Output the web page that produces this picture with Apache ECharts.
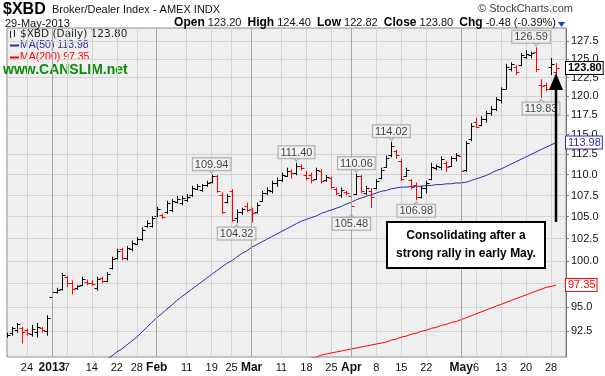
<!DOCTYPE html>
<html>
<head>
<meta charset="utf-8">
<title>$XBD Broker/Dealer Index</title>
<script src="https://cdn.jsdelivr.net/npm/echarts@6.0.0/dist/echarts.min.js"></script>
<style>
  html, body { margin: 0; padding: 0; background: #fff; }
  #chart { width: 605px; height: 376px; }
</style>
</head>
<body>
<div id="chart"></div>
<script>
// trading days shown on the chart, 18-Dec-2012 .. 29-May-2013
const dates = [
  '2012-12-18','2012-12-19','2012-12-20','2012-12-21','2012-12-24','2012-12-26','2012-12-27','2012-12-28','2012-12-31',
  '2013-01-02','2013-01-03','2013-01-04','2013-01-07','2013-01-08','2013-01-09','2013-01-10','2013-01-11',
  '2013-01-14','2013-01-15','2013-01-16','2013-01-17','2013-01-18','2013-01-22','2013-01-23','2013-01-24',
  '2013-01-25','2013-01-28','2013-01-29','2013-01-30','2013-01-31',
  '2013-02-01','2013-02-04','2013-02-05','2013-02-06','2013-02-07','2013-02-08','2013-02-11','2013-02-12',
  '2013-02-13','2013-02-14','2013-02-15','2013-02-19','2013-02-20','2013-02-21','2013-02-22','2013-02-25',
  '2013-02-26','2013-02-27','2013-02-28',
  '2013-03-01','2013-03-04','2013-03-05','2013-03-06','2013-03-07','2013-03-08','2013-03-11','2013-03-12',
  '2013-03-13','2013-03-14','2013-03-15','2013-03-18','2013-03-19','2013-03-20','2013-03-21','2013-03-22',
  '2013-03-25','2013-03-26','2013-03-27','2013-03-28',
  '2013-04-01','2013-04-02','2013-04-03','2013-04-04','2013-04-05','2013-04-08','2013-04-09','2013-04-10',
  '2013-04-11','2013-04-12','2013-04-15','2013-04-16','2013-04-17','2013-04-18','2013-04-19','2013-04-22',
  '2013-04-23','2013-04-24','2013-04-25','2013-04-26','2013-04-29','2013-04-30',
  '2013-05-01','2013-05-02','2013-05-03','2013-05-06','2013-05-07','2013-05-08','2013-05-09','2013-05-10',
  '2013-05-13','2013-05-14','2013-05-15','2013-05-16','2013-05-17','2013-05-20','2013-05-21','2013-05-22',
  '2013-05-23','2013-05-24','2013-05-28','2013-05-29'
];

const opens = [
  92.0, 92.3, 92.6, 92.8, 92.6, 92.2, 92.4, 92.8, 92.5,
  96.1, 96.6, 96.9, 98.2, 97.6, 97.0, 97.4, 97.7, 97.6, 97.0, 98.1, 97.8, 99.2,
  100.3, 101.3, 100.3, 101.3, 101.9, 102.4, 103.9, 103.9,
  105.1, 105.2, 105.5, 105.8, 106.7, 106.6, 107.0, 107.5, 108.3, 108.2, 108.7,
  109.1, 109.8, 107.6, 106.7, 108.0, 104.9, 105.5, 106.3,
  105.9, 105.5, 106.8, 107.8, 108.0, 109.0, 109.4, 109.9, 110.5, 110.2, 111.1,
  110.0, 110.0, 109.5, 110.4, 109.3, 109.6, 108.3, 107.5, 107.9,
  107.4, 107.7, 109.9, 107.8, 108.0, 108.4, 109.6, 111.0, 112.4, 112.9, 111.7,
  109.9, 109.3, 108.8, 107.3, 108.4, 109.5, 110.8, 111.0, 111.4, 111.1, 112.0,
  112.3, 110.6, 114.5, 116.6, 116.2, 117.0, 117.8, 118.3, 119.5, 121.0, 123.6,
  124.0, 124.2, 125.3, 125.6, 126.0, 121.5, 121.5, 124.0, 123.20
];
const highs = [
  92.3, 92.9, 93.3, 92.9, 92.7, 93.1, 93.3, 92.9, 94.1,
  96.9, 97.0, 98.6, 98.3, 97.8, 97.3, 98.2, 97.9, 97.8, 98.2, 98.2, 98.7, 100.4,
  101.3, 101.4, 101.6, 102.2, 102.6, 103.7, 104.5, 105.0,
  106.1, 105.3, 106.8, 107.0, 107.4, 107.4, 107.6, 108.6, 108.8, 108.8, 109.2,
  109.94, 109.9, 107.8, 107.6, 108.2, 105.8, 106.0, 106.6,
  106.0, 106.6, 108.0, 108.4, 109.2, 109.6, 110.2, 110.8, 110.6, 111.40, 111.2,
  110.4, 110.2, 110.8, 110.6, 109.9, 109.7, 108.4, 108.4, 108.0,
  107.5, 110.06, 109.9, 108.6, 108.3, 109.4, 110.8, 112.3, 114.02, 113.0, 111.9,
  110.8, 109.4, 109.0, 108.6, 109.2, 111.4, 111.2, 112.2, 111.6, 112.2, 112.6,
  112.6, 114.1, 116.4, 117.1, 117.3, 118.0, 118.6, 119.8, 121.1, 124.3, 124.5,
  124.1, 125.8, 126.2, 126.0, 126.59, 122.2, 121.7, 125.1, 124.40
];
const lows = [
  91.9, 92.1, 92.4, 91.3, 92.1, 92.0, 91.9, 92.4, 92.1,
  96.0, 96.5, 96.8, 97.2, 96.4, 96.9, 97.3, 97.4, 97.3, 96.8, 97.6, 97.7, 99.1,
  100.2, 100.1, 100.1, 101.1, 101.8, 102.3, 103.8, 103.8,
  105.0, 104.8, 105.4, 105.6, 106.6, 106.4, 106.8, 107.4, 108.2, 108.0, 108.6,
  109.0, 107.9, 105.4, 106.6, 104.5, 104.32, 105.3, 105.6,
  104.4, 105.4, 106.8, 107.6, 107.8, 108.6, 109.2, 109.8, 109.6, 110.0, 110.6,
  109.4, 109.0, 109.4, 109.0, 109.2, 108.3, 107.6, 107.3, 107.6,
  105.48, 107.6, 107.8, 107.6, 106.1, 108.3, 109.5, 110.9, 112.2, 112.0, 109.3,
  109.8, 108.3, 106.98, 107.2, 107.8, 109.4, 110.6, 110.6, 110.4, 111.0, 111.7,
  110.3, 110.4, 114.2, 115.9, 116.1, 116.6, 117.5, 118.1, 119.1, 121.0, 123.4,
  122.9, 124.1, 125.1, 125.2, 123.3, 119.83, 120.7, 122.9, 122.82
];
const closes = [
  92.1, 92.8, 93.2, 92.4, 92.3, 92.7, 92.9, 92.6, 93.9,
  96.6, 96.8, 98.4, 97.6, 96.9, 97.2, 98.0, 97.6, 97.5, 98.0, 97.8, 98.6, 100.2,
  101.1, 100.3, 101.4, 102.0, 102.5, 103.5, 104.3, 104.9,
  105.9, 105.0, 106.6, 106.8, 107.1, 107.2, 107.3, 108.4, 108.6, 108.7, 109.0,
  109.8, 108.0, 105.6, 107.4, 104.6, 105.5, 105.9, 105.8,
  105.4, 106.4, 107.8, 108.2, 109.0, 109.4, 110.0, 110.5, 110.2, 111.1, 110.8,
  109.6, 109.3, 110.6, 109.2, 109.7, 108.5, 107.8, 108.2, 107.8,
  106.2, 109.9, 108.0, 108.4, 107.3, 109.2, 110.6, 112.1, 113.5, 112.4, 109.5,
  110.6, 108.5, 107.3, 108.4, 109.0, 111.0, 111.1, 111.9, 110.9, 112.0, 112.4,
  110.5, 113.9, 116.1, 116.0, 117.0, 117.8, 118.3, 119.6, 120.9, 124.0, 124.3,
  123.2, 125.6, 125.7, 125.9, 123.6, 121.4, 121.0, 124.28, 123.80
];

// 50-day moving average (null where it is below the chart)
const ma50 = [
  null, null, null, null, null, null, null, null, null, null, null, null, null, null, null, null, null, null, null,
  89.3, 89.7, 90.0, 90.4, 90.7, 91.1, 91.5, 91.9, 92.4, 92.9, 93.4,
  93.9, 94.3, 94.8, 95.2, 95.7, 96.1, 96.5, 96.9, 97.3, 97.7,
  98.1, 98.5, 98.9, 99.3, 99.7, 100.0, 100.4, 100.8, 101.1, 101.5,
  101.8, 102.1, 102.4, 102.7, 103.0, 103.3, 103.6, 103.9, 104.2, 104.5,
  104.7, 104.9, 105.1, 105.4, 105.6, 105.8, 106.0, 106.2, 106.5, 106.7,
  107.0, 107.2, 107.4, 107.6, 107.8, 108.0, 108.1, 108.3, 108.4, 108.5,
  108.5, 108.6, 108.6, 108.6, 108.7, 108.7, 108.8, 108.8, 108.9, 108.9,
  109.0, 109.0, 109.1, 109.3, 109.5, 109.7, 109.9, 110.2, 110.5, 110.7,
  111.0, 111.3, 111.6, 111.9, 112.2, 112.5, 112.8, 113.1, 113.4, 113.7, 113.98
];
// 200-day moving average
const ma200 = [
  null, null, null, null, null, null, null, null, null, null, null, null, null, null, null, null, null, null, null, null,
  null, null, null, null, null, null, null, null, null, null, null, null, null, null, null, null, null, null, null, null,
  null, null, null, null, null, null, null, null, null, null, null, null, null, null, null, null, null,
  89.2, 89.4, 89.5, 89.7, 89.8, 89.9, 90.1, 90.2, 90.3, 90.4, 90.5, 90.6, 90.7,
  90.8, 90.9, 91.0, 91.1, 91.2, 91.3, 91.4, 91.6, 91.7, 91.9,
  92.0, 92.2, 92.3, 92.5, 92.6, 92.8, 92.9, 93.1, 93.2, 93.4,
  93.5, 93.7, 93.9, 94.1, 94.3, 94.5, 94.7, 94.9, 95.1, 95.3,
  95.5, 95.7, 95.9, 96.1, 96.3, 96.5, 96.7, 96.9, 97.1, 97.2, 97.35
];

const yTicks = [92.5, 95, 97.5, 100, 102.5, 105, 107.5, 110, 112.5, 115, 117.5, 120, 122.5, 125, 127.5];

const xTickDates = ['2012-12-24','2013-01-02','2013-01-07','2013-01-14','2013-01-22','2013-01-28',
  '2013-02-01','2013-02-11','2013-02-19','2013-02-25','2013-03-01','2013-03-11','2013-03-18','2013-03-25',
  '2013-04-01','2013-04-08','2013-04-15','2013-04-22','2013-05-01','2013-05-06','2013-05-13','2013-05-20','2013-05-28'];
const xTickLabels = ['24','2013','7','14','22','28','Feb','11','19','25','Mar','11','18','25',
  'Apr','8','15','22','May','6','13','20','28'];
const monthDates = ['2013-01-02','2013-02-01','2013-03-01','2013-04-01','2013-05-01'];

// high / low call-outs
const noteDates = ['2013-02-19','2013-02-26','2013-03-14','2013-04-01','2013-04-02','2013-04-11','2013-04-18','2013-05-22','2013-05-23'];
const noteValues = [109.94, 104.32, 111.40, 105.48, 110.06, 114.02, 106.98, 126.59, 119.83];
const noteSides = ['top','bottom','top','bottom','top','top','bottom','top','bottom'];

const RED = '#ff0000';
const BLUE = '#2b2ba0';

const categories = dates.concat(['pad1', 'pad2']);
const tickMap = {};
xTickDates.forEach((d, k) => { tickMap[d] = xTickLabels[k]; });
const boldTicks = ['2013', 'Feb', 'Mar', 'Apr', 'May'];

const barData = dates.map((d, i) => {
  const down = i > 0 && closes[i] < closes[i - 1] ? 1 : 0;
  return [i, opens[i], highs[i], lows[i], closes[i], down];
});

function renderBar(params, api) {
  const idx = api.value(0);
  const x = Math.round(api.coord([idx, api.value(2)])[0]) + 0.5;
  const yH = api.coord([idx, api.value(2)])[1];
  const yL = api.coord([idx, api.value(3)])[1];
  const yO = Math.round(api.coord([idx, api.value(1)])[1]) + 0.5;
  const yC = Math.round(api.coord([idx, api.value(4)])[1]) + 0.5;
  const color = api.value(5) ? RED : '#000000';
  return {
    type: 'group',
    children: [
      { type: 'line', shape: { x1: x, y1: yH - 0.5, x2: x, y2: yL + 0.5 }, style: { stroke: color, lineWidth: 1 } },
      { type: 'line', shape: { x1: x - 3, y1: yO, x2: x, y2: yO }, style: { stroke: color, lineWidth: 1 } },
      { type: 'line', shape: { x1: x, y1: yC, x2: x + 3, y2: yC }, style: { stroke: color, lineWidth: 1 } }
    ]
  };
}

// last-value tag on the price axis
function tag(value, color, bold) {
  return {
    silent: true,
    symbol: 'none',
    lineStyle: { color: 'rgba(0,0,0,0)', width: 1 },
    label: {
      show: true,
      position: 'end',
      distance: 0,
      formatter: value.toFixed(2),
      color: color,
      fontFamily: 'Liberation Sans, Arial',
      fontSize: 11,
      fontWeight: bold ? 'bold' : 'normal',
      backgroundColor: '#ffffff',
      borderColor: color,
      borderWidth: 1,
      padding: [1, 1, 0, 2]
    },
    data: [{ yAxis: value }]
  };
}

const chart = echarts.init(document.getElementById('chart'));

const option = {
  animation: false,
  backgroundColor: '#ffffff',
  textStyle: { fontFamily: 'Liberation Sans, Arial, sans-serif' },
  grid: {
    left: 7, right: 39, top: 28, bottom: 19,
    show: true,
    backgroundColor: '#efefef',
    borderColor: '#8c8c8c',
    borderWidth: 1
  },
  xAxis: {
    type: 'category',
    data: categories,
    boundaryGap: false,
    axisLine: { show: false },
    axisTick: { show: false },
    axisLabel: {
      interval: (i, v) => tickMap[v] !== undefined,
      formatter: v => {
        const t = tickMap[v];
        if (t === undefined) return '';
        return boldTicks.includes(t) ? '{b|' + t + '}' : t;
      },
      color: '#111',
      fontSize: 11,
      margin: 5,
      rich: { b: { fontWeight: 'bold', fontSize: 12, color: '#111' } }
    },
    splitLine: {
      show: true,
      interval: (i, v) => tickMap[v] !== undefined,
      lineStyle: { color: '#d4d4d4', width: 1 }
    }
  },
  yAxis: {
    type: 'log',
    position: 'right',
    min: 89.9,
    max: 129.4,
    axisLine: { show: true, lineStyle: { color: '#777' } },
    axisTick: { show: true, length: 3, customValues: yTicks, lineStyle: { color: '#777' } },
    axisLabel: {
      customValues: yTicks,
      formatter: v => Number(v).toFixed(1),
      color: '#111',
      fontSize: 11,
      margin: 5
    },
    splitLine: { show: true, lineStyle: { color: '#d4d4d4', width: 1 } }
  },
  series: [
    {
      name: 'months',
      type: 'line',
      data: [],
      z: 1,
      markLine: {
        silent: true,
        symbol: 'none',
        label: { show: false },
        lineStyle: { color: '#a6a6a6', type: 'solid', width: 1 },
        data: monthDates.map(d => ({ xAxis: d }))
      }
    },
    {
      name: 'MA(200)',
      type: 'line',
      data: ma200,
      showSymbol: false,
      lineStyle: { color: RED, width: 1 },
      z: 2,
      markLine: tag(ma200[ma200.length - 1], RED, false)
    },
    {
      name: 'MA(50)',
      type: 'line',
      data: ma50,
      showSymbol: false,
      lineStyle: { color: BLUE, width: 1 },
      z: 2,
      markLine: tag(ma50[ma50.length - 1], BLUE, false)
    },
    {
      name: '$XBD',
      type: 'custom',
      renderItem: renderBar,
      data: barData,
      encode: { x: 0, y: [1, 2, 3, 4] },
      clip: true,
      z: 3,
      markLine: tag(closes[closes.length - 1], '#000000', true)
    },
    {
      name: 'pointers',
      type: 'scatter',
      symbol: 'triangle',
      symbolSize: [7, 4],
      z: 4,
      silent: true,
      itemStyle: { color: '#f4f4f4', borderColor: '#9a9a9a', borderWidth: 1 },
      data: noteDates.map((d, k) => ({
        value: [d, noteValues[k]],
        symbolRotate: noteSides[k] === 'top' ? 180 : 0,
        symbolOffset: [0, noteSides[k] === 'top' ? -4 : 4]
      }))
    },
    {
      name: 'notes',
      type: 'scatter',
      symbolSize: 0,
      z: 5,
      silent: true,
      data: noteDates.map((d, k) => ({
        value: [d, noteValues[k]],
        label: {
          show: true,
          position: noteSides[k],
          distance: 5,
          offset: noteValues[k] === 126.59 ? [-5, 0] : [0, 0],
          formatter: noteValues[k].toFixed(2),
          color: '#111',
          fontSize: 11,
          backgroundColor: '#f4f4f4',
          borderColor: '#9a9a9a',
          borderWidth: 1,
          padding: [1, 2, 0, 2]
        }
      }))
    }
  ],
  graphic: [
    { type: 'text', left: 3, top: 2, style: { text: '$XBD', font: 'bold 16px "Liberation Sans", Arial', fill: '#000' } },
    { type: 'text', left: 52, top: 4, style: { text: 'Broker/Dealer Index - AMEX INDX', font: '11px "Liberation Sans", Arial', fill: '#111' } },
    { type: 'text', left: 478, top: 3, style: { text: '\u00a9 StockCharts.com', font: '11px "Liberation Sans", Arial', fill: '#444' } },
    { type: 'text', left: 5, top: 18, style: { text: '29-May-2013', font: '11px "Liberation Sans", Arial', fill: '#111' } },
    {
      type: 'text', right: 49, top: 17,
      style: {
        text: '{b|Open} 123.20  {b|High} 124.40  {b|Low} 122.82  {b|Close} 123.80  {b|Chg} -0.48 (-0.39%)',
        font: '11px "Liberation Sans", Arial', fill: '#111',
        rich: { b: { font: 'bold 12px "Liberation Sans", Arial', fill: '#000' } }
      }
    },
    { type: 'polygon', shape: { points: [[558, 22], [565, 22], [561.5, 27]] }, style: { fill: '#1040d0' } },
    // legend inside the plot
    { type: 'line', shape: { x1: 10.5, y1: 31, x2: 10.5, y2: 38 }, style: { stroke: '#222', lineWidth: 1 } },
    { type: 'line', shape: { x1: 14.5, y1: 30, x2: 14.5, y2: 37 }, style: { stroke: '#222', lineWidth: 1 } },
    { type: 'text', left: 20, top: 29, style: { text: '$XBD (Daily) 123.80', font: '10.5px "DejaVu Sans", Verdana', fill: '#222' } },
    { type: 'line', shape: { x1: 10, y1: 45.5, x2: 19, y2: 45.5 }, style: { stroke: BLUE, lineWidth: 2 } },
    { type: 'text', left: 20, top: 40, style: { text: 'MA(50) 113.98', font: '10.5px "Liberation Sans", Arial', fill: BLUE } },
    { type: 'line', shape: { x1: 10, y1: 57.5, x2: 19, y2: 57.5 }, style: { stroke: RED, lineWidth: 2 } },
    { type: 'text', left: 20, top: 52, style: { text: 'MA(200) 97.35', font: '10.5px "Liberation Sans", Arial', fill: RED } },
    { type: 'text', left: 3, top: 63, style: { text: 'www.CANSLIM.net', font: 'bold 14px "Liberation Sans", Arial', fill: '#0a8a0a' } },
    // comment box and arrow
    {
      type: 'rect', shape: { x: 387, y: 222, width: 158, height: 46 },
      style: { fill: '#ffffff', stroke: '#000', lineWidth: 2 }, z: 50
    },
    {
      type: 'text', x: 466, y: 245, z: 51,
      style: {
        text: 'Consolidating after a\nstrong rally in early May.',
        font: 'bold 12px "Liberation Sans", Arial', fill: '#000',
        align: 'center', verticalAlign: 'middle', lineHeight: 18
      }
    },
    { type: 'line', shape: { x1: 556, y1: 222, x2: 556, y2: 88 }, style: { stroke: '#000', lineWidth: 2.5 }, z: 50 },
    { type: 'polygon', shape: { points: [[549, 90], [563, 90], [556, 73]] }, style: { fill: '#000' }, z: 50 }
  ]
};

chart.setOption(option);
</script>
</body>
</html>
